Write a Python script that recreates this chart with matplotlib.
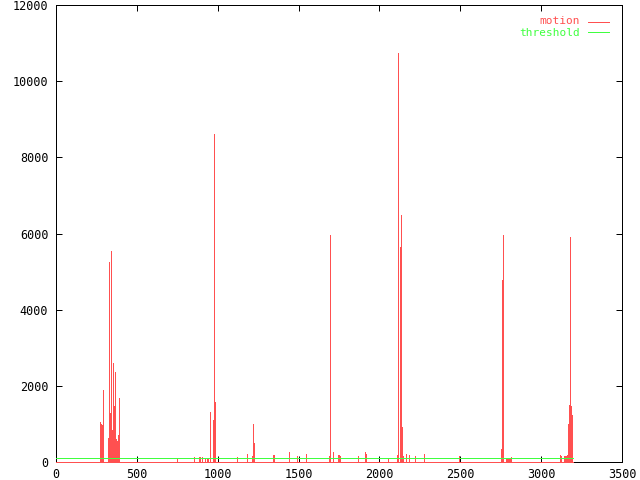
import numpy as np
import matplotlib
matplotlib.use("Agg")
import matplotlib.pyplot as plt

# motion per frame (mostly zero), spikes
n_frames = 3196
spike_frames = [272, 278, 285, 291, 322, 325, 328, 334, 337, 340, 346, 352, 359, 365,
                371, 377, 383, 390,
                748, 853, 884, 890, 903, 921, 934, 940, 952, 971, 977, 983,
                1119, 1181, 1212, 1218, 1221, 1227, 1342, 1348, 1441, 1490, 1546,
                1691, 1694, 1713, 1744, 1750, 1756, 1868, 1911, 1917,
                2053, 2109, 2115, 2127, 2133, 2140, 2146, 2165, 2183, 2220, 2276, 2492,
                2752, 2760, 2766, 2783, 2789, 2795, 2801, 2808, 2814,
                3117, 3123, 3141, 3147, 3154, 3160, 3164, 3168, 3172, 3179, 3185, 3191]
spike_values = [1060, 1000, 970, 1890, 630, 600, 5260, 1290, 600, 5540, 840, 2600, 1470, 2360,
                600, 550, 710, 1680,
                80, 140, 130, 130, 120, 80, 80, 80, 1320, 1100, 8600, 1580,
                130, 210, 160, 160, 1000, 510, 180, 180, 250, 160, 210,
                160, 5960, 250, 180, 180, 160, 160, 250, 200,
                90, 180, 10750, 5650, 6490, 930, 150, 210, 180, 160, 210, 160,
                340, 4780, 5960, 100, 80, 100, 90, 100, 140,
                180, 150, 160, 160, 160, 180, 660, 1000, 1500, 5910, 1470, 1240]
threshold = 100

frames = np.arange(n_frames)
motion = np.zeros(n_frames)
motion[spike_frames] = spike_values

red = '#ff5050'
green = '#40ff40'
mono = 'DejaVu Sans Mono'
px = 0.72  # one pixel in points at 100 dpi

fig = plt.figure(figsize=(6.4, 4.8), dpi=100)
ax = fig.add_axes([56/640, 18/480, 566/640, 457/480])

ax.vlines(frames, 0, motion, colors=red, linewidth=px, antialiased=False)
ax.hlines(0, frames[0], frames[-1], colors=red, linewidth=px, zorder=5,
          clip_on=False, antialiased=False)
ax.hlines(threshold, frames[0], frames[-1], colors=green, linewidth=px, zorder=4,
          antialiased=False)

ax.set_xlim(0, 3500)
ax.set_ylim(0, 12000)
ax.set_xticks(np.arange(0, 3501, 500))
ax.set_yticks(np.arange(0, 12001, 2000))
ax.tick_params(direction='in', length=4.3, width=px, top=True, right=True,
               labelsize=8.5, colors='black')
ax.tick_params(axis='x', pad=4)
ax.tick_params(axis='y', pad=5.5)
for lab in ax.get_xticklabels() + ax.get_yticklabels():
    lab.set_family(mono)
for sp in ax.spines.values():
    sp.set_linewidth(px)
    sp.set_antialiased(False)

# gnuplot-style key, top right
ax.text(0.926, 0.9645, 'motion', color=red, family=mono, fontsize=8,
        ha='right', va='center', transform=ax.transAxes)
ax.plot([0.940, 0.977], [0.9635, 0.9635], color=red, lw=px, transform=ax.transAxes,
        antialiased=False)
ax.text(0.926, 0.939, 'threshold', color=green, family=mono, fontsize=8,
        ha='right', va='center', transform=ax.transAxes)
ax.plot([0.940, 0.977], [0.940, 0.940], color=green, lw=px, transform=ax.transAxes,
        antialiased=False)

fig.savefig('out.png', dpi=100)
